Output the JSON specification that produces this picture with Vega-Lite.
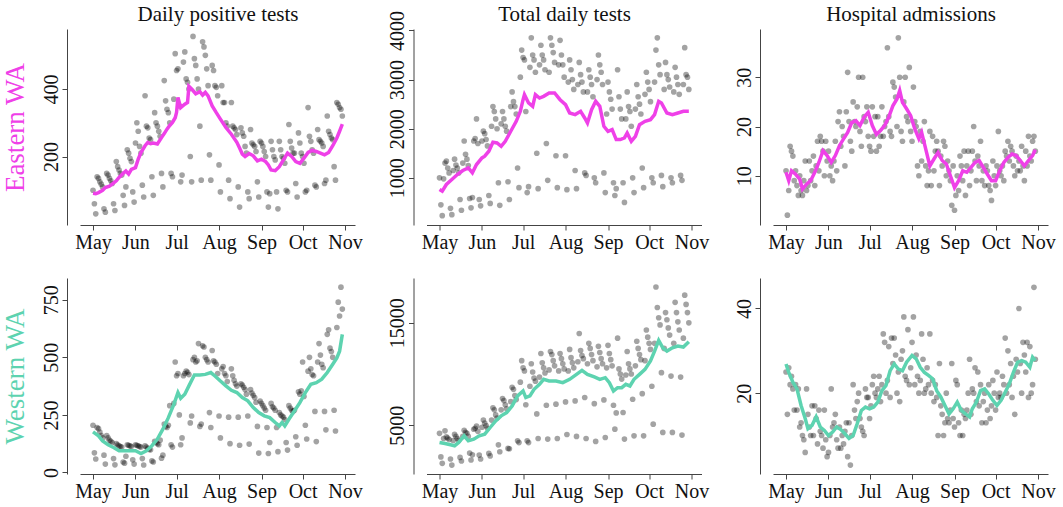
{
"$schema": "https://vega.github.io/schema/vega-lite/v6.json",
"background": "white",
"padding": {"left": 0, "top": 3, "right": 5, "bottom": 2},
"datasets": {
"pts": [
{"d":"2020/05/01","ep":100,"et":1000,"eh":11,"wp":205,"wt":4200,"wh":25},
{"d":"2020/05/02","ep":60,"et":450,"eh":2,"wp":85,"wt":1900,"wh":15},
{"d":"2020/05/03","ep":30,"et":230,"eh":7,"wp":58,"wt":1270,"wh":26},
{"d":"2020/05/04","ep":140,"et":980,"eh":16,"wp":195,"wt":3700,"wh":22},
{"d":"2020/05/05","ep":135,"et":1300,"eh":15,"wp":190,"wt":4450,"wh":24},
{"d":"2020/05/06","ep":125,"et":1340,"eh":14,"wp":175,"wt":3850,"wh":21},
{"d":"2020/05/07","ep":118,"et":1200,"eh":9,"wp":160,"wt":3750,"wh":16},
{"d":"2020/05/08","ep":110,"et":1100,"eh":11,"wp":150,"wt":3600,"wh":22},
{"d":"2020/05/09","ep":45,"et":380,"eh":8,"wp":75,"wt":1700,"wh":16},
{"d":"2020/05/10","ep":35,"et":250,"eh":6,"wp":36,"wt":1100,"wh":21},
{"d":"2020/05/11","ep":150,"et":1150,"eh":10,"wp":160,"wt":3500,"wh":12},
{"d":"2020/05/12","ep":145,"et":1380,"eh":7,"wp":150,"wt":4100,"wh":13},
{"d":"2020/05/13","ep":135,"et":1260,"eh":6,"wp":140,"wt":3900,"wh":10},
{"d":"2020/05/14","ep":128,"et":1200,"eh":9,"wp":135,"wt":3700,"wh":9},
{"d":"2020/05/15","ep":120,"et":1100,"eh":13,"wp":130,"wt":3500,"wh":6},
{"d":"2020/05/16","ep":60,"et":560,"eh":7,"wp":60,"wt":1850,"wh":21},
{"d":"2020/05/17","ep":40,"et":340,"eh":8,"wp":33,"wt":1500,"wh":15},
{"d":"2020/05/18","ep":185,"et":1300,"eh":13,"wp":125,"wt":3900,"wh":12},
{"d":"2020/05/19","ep":170,"et":1750,"eh":9,"wp":120,"wt":4500,"wh":10},
{"d":"2020/05/20","ep":160,"et":1480,"eh":11,"wp":115,"wt":4300,"wh":17},
{"d":"2020/05/21","ep":150,"et":1380,"eh":14,"wp":112,"wt":4200,"wh":10},
{"d":"2020/05/22","ep":145,"et":1250,"eh":8,"wp":110,"wt":3900,"wh":17},
{"d":"2020/05/23","ep":85,"et":580,"eh":12,"wp":45,"wt":2270,"wh":14},
{"d":"2020/05/24","ep":55,"et":390,"eh":17,"wp":40,"wt":1600,"wh":8},
{"d":"2020/05/25","ep":110,"et":600,"eh":11,"wp":70,"wt":2100,"wh":16},
{"d":"2020/05/26","ep":220,"et":1750,"eh":18,"wp":120,"wt":4600,"wh":11},
{"d":"2020/05/27","ep":210,"et":1800,"eh":17,"wp":118,"wt":4700,"wh":10},
{"d":"2020/05/28","ep":195,"et":2200,"eh":15,"wp":115,"wt":4900,"wh":7},
{"d":"2020/05/29","ep":185,"et":1700,"eh":10,"wp":112,"wt":4400,"wh":16},
{"d":"2020/05/30","ep":95,"et":560,"eh":17,"wp":55,"wt":2080,"wh":9},
{"d":"2020/05/31","ep":65,"et":430,"eh":13,"wp":36,"wt":1700,"wh":5},
{"d":"2020/06/01","ep":240,"et":1750,"eh":15,"wp":120,"wt":4800,"wh":6},
{"d":"2020/06/02","ep":300,"et":1950,"eh":10,"wp":118,"wt":5500,"wh":10},
{"d":"2020/06/03","ep":275,"et":1900,"eh":12,"wp":115,"wt":5200,"wh":21},
{"d":"2020/06/04","ep":230,"et":1780,"eh":9,"wp":112,"wt":4950,"wh":12},
{"d":"2020/06/05","ep":210,"et":1650,"eh":13,"wp":110,"wt":4700,"wh":13},
{"d":"2020/06/06","ep":115,"et":640,"eh":17,"wp":60,"wt":2240,"wh":15},
{"d":"2020/06/07","ep":80,"et":480,"eh":11,"wp":32,"wt":2000,"wh":9},
{"d":"2020/06/08","ep":380,"et":2050,"eh":21,"wp":115,"wt":5500,"wh":7},
{"d":"2020/06/09","ep":290,"et":2450,"eh":23,"wp":110,"wt":6700,"wh":12},
{"d":"2020/06/10","ep":285,"et":2350,"eh":16,"wp":105,"wt":6500,"wh":7},
{"d":"2020/06/11","ep":255,"et":2200,"eh":20,"wp":100,"wt":6000,"wh":10},
{"d":"2020/06/12","ep":250,"et":2000,"eh":18,"wp":98,"wt":5700,"wh":8},
{"d":"2020/06/13","ep":140,"et":900,"eh":12,"wp":50,"wt":3080,"wh":11},
{"d":"2020/06/14","ep":85,"et":440,"eh":23,"wp":45,"wt":2400,"wh":13},
{"d":"2020/06/15","ep":330,"et":2100,"eh":31,"wp":135,"wt":6500,"wh":5},
{"d":"2020/06/16","ep":300,"et":2350,"eh":21,"wp":130,"wt":7600,"wh":13},
{"d":"2020/06/17","ep":290,"et":2200,"eh":17,"wp":125,"wt":7400,"wh":3},
{"d":"2020/06/18","ep":275,"et":2050,"eh":15,"wp":120,"wt":7000,"wh":10},
{"d":"2020/06/19","ep":260,"et":1950,"eh":25,"wp":140,"wt":6600,"wh":22},
{"d":"2020/06/20","ep":150,"et":920,"eh":21,"wp":62,"wt":2730,"wh":16},
{"d":"2020/06/21","ep":110,"et":560,"eh":20,"wp":75,"wt":2700,"wh":14},
{"d":"2020/06/22","ep":425,"et":2450,"eh":24,"wp":210,"wt":7300,"wh":18},
{"d":"2020/06/23","ep":365,"et":2750,"eh":30,"wp":200,"wt":8700,"wh":20},
{"d":"2020/06/24","ep":340,"et":2550,"eh":19,"wp":195,"wt":8500,"wh":14},
{"d":"2020/06/25","ep":330,"et":2450,"eh":16,"wp":205,"wt":7900,"wh":12},
{"d":"2020/06/26","ep":300,"et":2300,"eh":30,"wp":290,"wt":7500,"wh":11},
{"d":"2020/06/27","ep":150,"et":1200,"eh":22,"wp":120,"wt":3470,"wh":10},
{"d":"2020/06/28","ep":140,"et":800,"eh":21,"wp":110,"wt":3300,"wh":21},
{"d":"2020/06/29","ep":370,"et":3050,"eh":24,"wp":300,"wt":9200,"wh":19},
{"d":"2020/06/30","ep":505,"et":3600,"eh":18,"wp":480,"wt":11300,"wh":19},
{"d":"2020/07/01","ep":455,"et":3450,"eh":16,"wp":420,"wt":10600,"wh":14},
{"d":"2020/07/02","ep":460,"et":3400,"eh":15,"wp":430,"wt":10300,"wh":17},
{"d":"2020/07/03","ep":350,"et":2350,"eh":24,"wp":250,"wt":7000,"wh":22},
{"d":"2020/07/04","ep":125,"et":700,"eh":18,"wp":120,"wt":3470,"wh":24},
{"d":"2020/07/05","ep":145,"et":820,"eh":22,"wp":150,"wt":3300,"wh":20},
{"d":"2020/07/06","ep":480,"et":3250,"eh":15,"wp":420,"wt":8800,"wh":19},
{"d":"2020/07/07","ep":510,"et":3850,"eh":22,"wp":430,"wt":11000,"wh":21},
{"d":"2020/07/08","ep":430,"et":3500,"eh":16,"wp":440,"wt":10200,"wh":24},
{"d":"2020/07/09","ep":420,"et":3400,"eh":18,"wp":435,"wt":9600,"wh":18},
{"d":"2020/07/10","ep":400,"et":3150,"eh":24,"wp":425,"wt":9300,"wh":22},
{"d":"2020/07/11","ep":200,"et":1500,"eh":18,"wp":215,"wt":6100,"wh":34},
{"d":"2020/07/12","ep":125,"et":780,"eh":20,"wp":245,"wt":3700,"wh":32},
{"d":"2020/07/13","ep":556,"et":3300,"eh":21,"wp":490,"wt":9700,"wh":20},
{"d":"2020/07/14","ep":490,"et":3700,"eh":36,"wp":500,"wt":12000,"wh":23},
{"d":"2020/07/15","ep":470,"et":3500,"eh":22,"wp":480,"wt":11100,"wh":31},
{"d":"2020/07/16","ep":430,"et":3400,"eh":19,"wp":485,"wt":10600,"wh":19},
{"d":"2020/07/17","ep":400,"et":3200,"eh":18,"wp":560,"wt":10100,"wh":33},
{"d":"2020/07/18","ep":290,"et":1700,"eh":29,"wp":200,"wt":6950,"wh":27},
{"d":"2020/07/19","ep":130,"et":950,"eh":28,"wp":210,"wt":3640,"wh":33},
{"d":"2020/07/20","ep":540,"et":3150,"eh":26,"wp":550,"wt":10400,"wh":29},
{"d":"2020/07/21","ep":525,"et":3850,"eh":20,"wp":545,"wt":12200,"wh":20},
{"d":"2020/07/22","ep":500,"et":3700,"eh":38,"wp":500,"wt":11900,"wh":25},
{"d":"2020/07/23","ep":460,"et":3550,"eh":30,"wp":490,"wt":11300,"wh":18},
{"d":"2020/07/24","ep":410,"et":3350,"eh":19,"wp":480,"wt":10800,"wh":28},
{"d":"2020/07/25","ep":205,"et":1450,"eh":17,"wp":260,"wt":7050,"wh":30},
{"d":"2020/07/26","ep":130,"et":800,"eh":25,"wp":195,"wt":3700,"wh":38},
{"d":"2020/07/27","ep":470,"et":3300,"eh":30,"wp":530,"wt":10300,"wh":24},
{"d":"2020/07/28","ep":455,"et":3800,"eh":22,"wp":485,"wt":12000,"wh":23},
{"d":"2020/07/29","ep":410,"et":3500,"eh":21,"wp":480,"wt":11500,"wh":35},
{"d":"2020/07/30","ep":405,"et":3300,"eh":32,"wp":470,"wt":11000,"wh":22},
{"d":"2020/07/31","ep":380,"et":3050,"eh":19,"wp":430,"wt":10500,"wh":26},
{"d":"2020/08/01","ep":175,"et":1450,"eh":17,"wp":245,"wt":7270,"wh":32},
{"d":"2020/08/02","ep":95,"et":760,"eh":28,"wp":150,"wt":4090,"wh":38},
{"d":"2020/08/03","ep":410,"et":2950,"eh":21,"wp":450,"wt":10300,"wh":22},
{"d":"2020/08/04","ep":360,"et":3400,"eh":20,"wp":460,"wt":12400,"wh":29},
{"d":"2020/08/05","ep":360,"et":3200,"eh":12,"wp":430,"wt":11600,"wh":24},
{"d":"2020/08/06","ep":300,"et":3000,"eh":10,"wp":420,"wt":11100,"wh":20},
{"d":"2020/08/07","ep":290,"et":2800,"eh":19,"wp":395,"wt":10600,"wh":23},
{"d":"2020/08/08","ep":130,"et":1150,"eh":13,"wp":240,"wt":7370,"wh":34},
{"d":"2020/08/09","ep":75,"et":780,"eh":17,"wp":125,"wt":3900,"wh":28},
{"d":"2020/08/10","ep":360,"et":2900,"eh":21,"wp":450,"wt":11200,"wh":20},
{"d":"2020/08/11","ep":290,"et":3350,"eh":12,"wp":420,"wt":13960,"wh":21},
{"d":"2020/08/12","ep":285,"et":3100,"eh":8,"wp":400,"wt":12300,"wh":26},
{"d":"2020/08/13","ep":280,"et":2950,"eh":11,"wp":385,"wt":11800,"wh":22},
{"d":"2020/08/14","ep":265,"et":2750,"eh":19,"wp":375,"wt":11500,"wh":34},
{"d":"2020/08/15","ep":110,"et":1100,"eh":8,"wp":240,"wt":7700,"wh":20},
{"d":"2020/08/16","ep":50,"et":1050,"eh":18,"wp":118,"wt":3700,"wh":23},
{"d":"2020/08/17","ep":285,"et":2750,"eh":11,"wp":385,"wt":11000,"wh":18},
{"d":"2020/08/18","ep":270,"et":3200,"eh":15,"wp":380,"wt":13000,"wh":22},
{"d":"2020/08/19","ep":260,"et":3050,"eh":17,"wp":370,"wt":12500,"wh":19},
{"d":"2020/08/20","ep":230,"et":2900,"eh":15,"wp":360,"wt":11900,"wh":10},
{"d":"2020/08/21","ep":210,"et":2650,"eh":8,"wp":340,"wt":11300,"wh":27},
{"d":"2020/08/22","ep":95,"et":1000,"eh":14,"wp":245,"wt":7100,"wh":17},
{"d":"2020/08/23","ep":75,"et":900,"eh":12,"wp":123,"wt":3410,"wh":15},
{"d":"2020/08/24","ep":280,"et":3000,"eh":17,"wp":360,"wt":10700,"wh":10},
{"d":"2020/08/25","ep":240,"et":3500,"eh":16,"wp":345,"wt":12700,"wh":13},
{"d":"2020/08/26","ep":235,"et":3300,"eh":10,"wp":335,"wt":12100,"wh":20},
{"d":"2020/08/27","ep":230,"et":3150,"eh":13,"wp":325,"wt":11500,"wh":14},
{"d":"2020/08/28","ep":215,"et":2900,"eh":11,"wp":305,"wt":11000,"wh":13},
{"d":"2020/08/29","ep":125,"et":1100,"eh":9,"wp":200,"wt":7470,"wh":16},
{"d":"2020/08/30","ep":80,"et":700,"eh":4,"wp":84,"wt":3800,"wh":27},
{"d":"2020/08/31","ep":245,"et":2300,"eh":12,"wp":310,"wt":10600,"wh":14},
{"d":"2020/09/01","ep":240,"et":2950,"eh":3,"wp":300,"wt":12800,"wh":12},
{"d":"2020/09/02","ep":230,"et":2750,"eh":6,"wp":290,"wt":12000,"wh":23},
{"d":"2020/09/03","ep":215,"et":2600,"eh":10,"wp":280,"wt":11400,"wh":22},
{"d":"2020/09/04","ep":200,"et":2400,"eh":7,"wp":270,"wt":10800,"wh":13},
{"d":"2020/09/05","ep":95,"et":900,"eh":14,"wp":195,"wt":6950,"wh":10},
{"d":"2020/09/06","ep":50,"et":640,"eh":12,"wp":82,"wt":4610,"wh":16},
{"d":"2020/09/07","ep":90,"et":780,"eh":9,"wp":130,"wt":6200,"wh":10},
{"d":"2020/09/08","ep":245,"et":3200,"eh":15,"wp":300,"wt":13500,"wh":15},
{"d":"2020/09/09","ep":220,"et":2650,"eh":6,"wp":285,"wt":10500,"wh":14},
{"d":"2020/09/10","ep":200,"et":2400,"eh":12,"wp":280,"wt":10000,"wh":16},
{"d":"2020/09/11","ep":190,"et":2200,"eh":15,"wp":270,"wt":9500,"wh":20},
{"d":"2020/09/12","ep":95,"et":900,"eh":8,"wp":195,"wt":6240,"wh":28},
{"d":"2020/09/13","ep":45,"et":500,"eh":11,"wp":90,"wt":3640,"wh":15},
{"d":"2020/09/14","ep":245,"et":2200,"eh":15,"wp":260,"wt":9900,"wh":21},
{"d":"2020/09/15","ep":220,"et":2750,"eh":20,"wp":250,"wt":12200,"wh":20},
{"d":"2020/09/16","ep":200,"et":2450,"eh":13,"wp":245,"wt":11000,"wh":26},
{"d":"2020/09/17","ep":195,"et":2350,"eh":9,"wp":240,"wt":10500,"wh":18},
{"d":"2020/09/18","ep":180,"et":2050,"eh":14,"wp":230,"wt":10000,"wh":25},
{"d":"2020/09/19","ep":100,"et":1000,"eh":12,"wp":130,"wt":7530,"wh":17},
{"d":"2020/09/20","ep":95,"et":700,"eh":17,"wp":97,"wt":3960,"wh":22},
{"d":"2020/09/21","ep":295,"et":2400,"eh":9,"wp":290,"wt":10800,"wh":13},
{"d":"2020/09/22","ep":245,"et":2900,"eh":11,"wp":280,"wt":13200,"wh":18},
{"d":"2020/09/23","ep":225,"et":2650,"eh":8,"wp":270,"wt":12500,"wh":20},
{"d":"2020/09/24","ep":210,"et":2500,"eh":12,"wp":265,"wt":11900,"wh":13},
{"d":"2020/09/25","ep":210,"et":2300,"eh":11,"wp":270,"wt":11400,"wh":16},
{"d":"2020/09/26","ep":120,"et":1200,"eh":8,"wp":155,"wt":8080,"wh":22},
{"d":"2020/09/27","ep":80,"et":800,"eh":7,"wp":118,"wt":3960,"wh":14},
{"d":"2020/09/28","ep":270,"et":2700,"eh":5,"wp":350,"wt":11300,"wh":17},
{"d":"2020/09/29","ep":240,"et":3150,"eh":13,"wp":340,"wt":14300,"wh":23},
{"d":"2020/09/30","ep":210,"et":2950,"eh":10,"wp":355,"wt":13600,"wh":20},
{"d":"2020/10/01","ep":200,"et":2800,"eh":8,"wp":480,"wt":13000,"wh":16},
{"d":"2020/10/02","ep":180,"et":2550,"eh":12,"wp":330,"wt":12400,"wh":25},
{"d":"2020/10/03","ep":95,"et":1000,"eh":19,"wp":205,"wt":8800,"wh":19},
{"d":"2020/10/04","ep":100,"et":900,"eh":11,"wp":145,"wt":5100,"wh":20},
{"d":"2020/10/05","ep":345,"et":2950,"eh":10,"wp":440,"wt":13000,"wh":19},
{"d":"2020/10/06","ep":260,"et":3600,"eh":12,"wp":500,"wt":18500,"wh":24},
{"d":"2020/10/07","ep":245,"et":3850,"eh":9,"wp":450,"wt":16500,"wh":22},
{"d":"2020/10/08","ep":220,"et":3300,"eh":15,"wp":425,"wt":15500,"wh":33},
{"d":"2020/10/09","ep":210,"et":3100,"eh":14,"wp":420,"wt":14800,"wh":20},
{"d":"2020/10/10","ep":115,"et":1050,"eh":17,"wp":265,"wt":10130,"wh":30},
{"d":"2020/10/11","ep":110,"et":820,"eh":13,"wp":134,"wt":4290,"wh":22},
{"d":"2020/10/12","ep":280,"et":2800,"eh":16,"wp":480,"wt":12500,"wh":27},
{"d":"2020/10/13","ep":250,"et":3350,"eh":15,"wp":560,"wt":16000,"wh":19},
{"d":"2020/10/14","ep":245,"et":3100,"eh":12,"wp":510,"wt":15300,"wh":24},
{"d":"2020/10/15","ep":240,"et":3000,"eh":10,"wp":470,"wt":14500,"wh":15},
{"d":"2020/10/16","ep":230,"et":2850,"eh":14,"wp":455,"wt":13800,"wh":28},
{"d":"2020/10/17","ep":120,"et":1000,"eh":11,"wp":265,"wt":9800,"wh":25},
{"d":"2020/10/18","ep":130,"et":900,"eh":13,"wp":185,"wt":4290,"wh":40},
{"d":"2020/10/19","ep":320,"et":2750,"eh":11,"wp":600,"wt":13000,"wh":27},
{"d":"2020/10/20","ep":275,"et":3250,"eh":16,"wp":620,"wt":17000,"wh":20},
{"d":"2020/10/21","ep":265,"et":3050,"eh":12,"wp":540,"wt":16000,"wh":32},
{"d":"2020/10/22","ep":255,"et":2900,"eh":9,"wp":525,"wt":15100,"wh":29},
{"d":"2020/10/23","ep":250,"et":2700,"eh":15,"wp":500,"wt":14300,"wh":25},
{"d":"2020/10/24","ep":170,"et":1050,"eh":12,"wp":270,"wt":9700,"wh":32},
{"d":"2020/10/25","ep":130,"et":950,"eh":18,"wp":180,"wt":4030,"wh":19},
{"d":"2020/10/26","ep":360,"et":2900,"eh":14,"wp":630,"wt":13500,"wh":31},
{"d":"2020/10/27","ep":355,"et":3650,"eh":13,"wp":740,"wt":17700,"wh":20},
{"d":"2020/10/28","ep":345,"et":3100,"eh":17,"wp":680,"wt":16800,"wh":22},
{"d":"2020/10/29","ep":340,"et":3050,"eh":18,"wp":805,"wt":16000,"wh":45},
{"d":"2020/10/30","ep":320,"et":2800,"eh":15,"wp":710,"wt":15000,"wh":28}
],
"ln": [
{"s":"ep","d":"2020/05/01","v":91},{"s":"ep","d":"2020/05/03","v":90},{"s":"ep","d":"2020/05/05","v":93},{"s":"ep","d":"2020/05/08","v":100},{"s":"ep","d":"2020/05/10","v":108},{"s":"ep","d":"2020/05/13","v":112},{"s":"ep","d":"2020/05/15","v":118},{"s":"ep","d":"2020/05/18","v":128},{"s":"ep","d":"2020/05/20","v":138},{"s":"ep","d":"2020/05/23","v":150},{"s":"ep","d":"2020/05/25","v":157},{"s":"ep","d":"2020/05/27","v":148},{"s":"ep","d":"2020/05/29","v":162},{"s":"ep","d":"2020/06/01","v":167},{"s":"ep","d":"2020/06/03","v":192},{"s":"ep","d":"2020/06/05","v":212},{"s":"ep","d":"2020/06/08","v":232},{"s":"ep","d":"2020/06/10","v":242},{"s":"ep","d":"2020/06/12","v":238},{"s":"ep","d":"2020/06/14","v":240},{"s":"ep","d":"2020/06/17","v":237},{"s":"ep","d":"2020/06/20","v":256},{"s":"ep","d":"2020/06/22","v":268},{"s":"ep","d":"2020/06/24","v":281},{"s":"ep","d":"2020/06/26","v":292},{"s":"ep","d":"2020/06/28","v":301},{"s":"ep","d":"2020/06/30","v":315},{"s":"ep","d":"2020/07/01","v":331},{"s":"ep","d":"2020/07/02","v":375},{"s":"ep","d":"2020/07/04","v":345},{"s":"ep","d":"2020/07/07","v":355},{"s":"ep","d":"2020/07/09","v":360},{"s":"ep","d":"2020/07/10","v":408},{"s":"ep","d":"2020/07/12","v":400},{"s":"ep","d":"2020/07/15","v":386},{"s":"ep","d":"2020/07/18","v":392},{"s":"ep","d":"2020/07/20","v":382},{"s":"ep","d":"2020/07/22","v":390},{"s":"ep","d":"2020/07/24","v":380},{"s":"ep","d":"2020/07/27","v":350},{"s":"ep","d":"2020/07/30","v":330},{"s":"ep","d":"2020/08/02","v":311},{"s":"ep","d":"2020/08/06","v":286},{"s":"ep","d":"2020/08/10","v":266},{"s":"ep","d":"2020/08/14","v":242},{"s":"ep","d":"2020/08/16","v":225},{"s":"ep","d":"2020/08/18","v":207},{"s":"ep","d":"2020/08/20","v":200},{"s":"ep","d":"2020/08/23","v":209},{"s":"ep","d":"2020/08/26","v":202},{"s":"ep","d":"2020/08/29","v":187},{"s":"ep","d":"2020/09/01","v":192},{"s":"ep","d":"2020/09/04","v":185},{"s":"ep","d":"2020/09/06","v":175},{"s":"ep","d":"2020/09/08","v":160},{"s":"ep","d":"2020/09/11","v":158},{"s":"ep","d":"2020/09/14","v":170},{"s":"ep","d":"2020/09/17","v":190},{"s":"ep","d":"2020/09/20","v":210},{"s":"ep","d":"2020/09/23","v":200},{"s":"ep","d":"2020/09/26","v":185},{"s":"ep","d":"2020/09/29","v":180},{"s":"ep","d":"2020/10/02","v":195},{"s":"ep","d":"2020/10/05","v":212},{"s":"ep","d":"2020/10/08","v":218},{"s":"ep","d":"2020/10/11","v":215},{"s":"ep","d":"2020/10/14","v":210},{"s":"ep","d":"2020/10/17","v":205},{"s":"ep","d":"2020/10/20","v":212},{"s":"ep","d":"2020/10/23","v":232},{"s":"ep","d":"2020/10/26","v":255},{"s":"ep","d":"2020/10/28","v":275},{"s":"ep","d":"2020/10/30","v":296},
{"s":"et","d":"2020/05/01","v":763},{"s":"et","d":"2020/05/03","v":729},{"s":"et","d":"2020/05/06","v":865},{"s":"et","d":"2020/05/10","v":966},{"s":"et","d":"2020/05/14","v":1068},{"s":"et","d":"2020/05/18","v":1149},{"s":"et","d":"2020/05/22","v":1203},{"s":"et","d":"2020/05/25","v":1101},{"s":"et","d":"2020/05/28","v":1271},{"s":"et","d":"2020/06/01","v":1406},{"s":"et","d":"2020/06/03","v":1440},{"s":"et","d":"2020/06/06","v":1542},{"s":"et","d":"2020/06/09","v":1724},{"s":"et","d":"2020/06/12","v":1711},{"s":"et","d":"2020/06/15","v":1643},{"s":"et","d":"2020/06/18","v":1745},{"s":"et","d":"2020/06/22","v":1948},{"s":"et","d":"2020/06/26","v":2151},{"s":"et","d":"2020/06/29","v":2354},{"s":"et","d":"2020/07/01","v":2591},{"s":"et","d":"2020/07/02","v":2693},{"s":"et","d":"2020/07/05","v":2524},{"s":"et","d":"2020/07/08","v":2456},{"s":"et","d":"2020/07/10","v":2693},{"s":"et","d":"2020/07/13","v":2625},{"s":"et","d":"2020/07/16","v":2659},{"s":"et","d":"2020/07/20","v":2727},{"s":"et","d":"2020/07/24","v":2727},{"s":"et","d":"2020/07/28","v":2591},{"s":"et","d":"2020/08/01","v":2490},{"s":"et","d":"2020/08/04","v":2320},{"s":"et","d":"2020/08/08","v":2287},{"s":"et","d":"2020/08/12","v":2354},{"s":"et","d":"2020/08/15","v":2219},{"s":"et","d":"2020/08/17","v":2117},{"s":"et","d":"2020/08/20","v":2388},{"s":"et","d":"2020/08/23","v":2558},{"s":"et","d":"2020/08/26","v":2456},{"s":"et","d":"2020/08/29","v":2049},{"s":"et","d":"2020/09/01","v":1948},{"s":"et","d":"2020/09/04","v":1982},{"s":"et","d":"2020/09/07","v":1779},{"s":"et","d":"2020/09/10","v":1779},{"s":"et","d":"2020/09/13","v":1812},{"s":"et","d":"2020/09/15","v":1914},{"s":"et","d":"2020/09/18","v":1745},{"s":"et","d":"2020/09/21","v":1846},{"s":"et","d":"2020/09/24","v":2083},{"s":"et","d":"2020/09/28","v":2151},{"s":"et","d":"2020/10/02","v":2185},{"s":"et","d":"2020/10/05","v":2287},{"s":"et","d":"2020/10/08","v":2558},{"s":"et","d":"2020/10/10","v":2524},{"s":"et","d":"2020/10/14","v":2320},{"s":"et","d":"2020/10/18","v":2287},{"s":"et","d":"2020/10/22","v":2320},{"s":"et","d":"2020/10/26","v":2354},{"s":"et","d":"2020/10/30","v":2354},
{"s":"eh","d":"2020/05/01","v":10.7},{"s":"eh","d":"2020/05/03","v":9.0},{"s":"eh","d":"2020/05/05","v":11.0},{"s":"eh","d":"2020/05/08","v":10.3},{"s":"eh","d":"2020/05/11","v":9.3},{"s":"eh","d":"2020/05/13","v":7.3},{"s":"eh","d":"2020/05/16","v":8.3},{"s":"eh","d":"2020/05/19","v":9.0},{"s":"eh","d":"2020/05/22","v":10.7},{"s":"eh","d":"2020/05/25","v":12.7},{"s":"eh","d":"2020/05/28","v":15.1},{"s":"eh","d":"2020/05/31","v":14.1},{"s":"eh","d":"2020/06/03","v":12.7},{"s":"eh","d":"2020/06/06","v":14.1},{"s":"eh","d":"2020/06/09","v":16.1},{"s":"eh","d":"2020/06/12","v":17.5},{"s":"eh","d":"2020/06/15","v":18.8},{"s":"eh","d":"2020/06/18","v":20.8},{"s":"eh","d":"2020/06/21","v":21.2},{"s":"eh","d":"2020/06/24","v":20.2},{"s":"eh","d":"2020/06/27","v":21.9},{"s":"eh","d":"2020/06/30","v":22.9},{"s":"eh","d":"2020/07/03","v":20.2},{"s":"eh","d":"2020/07/06","v":18.4},{"s":"eh","d":"2020/07/09","v":19.2},{"s":"eh","d":"2020/07/12","v":20.2},{"s":"eh","d":"2020/07/15","v":21.9},{"s":"eh","d":"2020/07/18","v":24.2},{"s":"eh","d":"2020/07/21","v":25.6},{"s":"eh","d":"2020/07/23","v":27.3},{"s":"eh","d":"2020/07/25","v":24.9},{"s":"eh","d":"2020/07/28","v":23.6},{"s":"eh","d":"2020/07/31","v":22.2},{"s":"eh","d":"2020/08/03","v":19.5},{"s":"eh","d":"2020/08/06","v":17.5},{"s":"eh","d":"2020/08/08","v":18.8},{"s":"eh","d":"2020/08/11","v":15.4},{"s":"eh","d":"2020/08/14","v":12.0},{"s":"eh","d":"2020/08/17","v":13.4},{"s":"eh","d":"2020/08/20","v":14.7},{"s":"eh","d":"2020/08/23","v":13.1},{"s":"eh","d":"2020/08/26","v":12.4},{"s":"eh","d":"2020/08/29","v":10.0},{"s":"eh","d":"2020/09/01","v":7.6},{"s":"eh","d":"2020/09/04","v":9.0},{"s":"eh","d":"2020/09/07","v":11.0},{"s":"eh","d":"2020/09/10","v":10.7},{"s":"eh","d":"2020/09/13","v":11.7},{"s":"eh","d":"2020/09/16","v":12.7},{"s":"eh","d":"2020/09/19","v":13.1},{"s":"eh","d":"2020/09/22","v":11.7},{"s":"eh","d":"2020/09/25","v":10.3},{"s":"eh","d":"2020/09/28","v":9.0},{"s":"eh","d":"2020/10/01","v":9.0},{"s":"eh","d":"2020/10/04","v":11.0},{"s":"eh","d":"2020/10/07","v":12.7},{"s":"eh","d":"2020/10/10","v":13.7},{"s":"eh","d":"2020/10/13","v":14.4},{"s":"eh","d":"2020/10/16","v":14.1},{"s":"eh","d":"2020/10/19","v":13.1},{"s":"eh","d":"2020/10/22","v":12.0},{"s":"eh","d":"2020/10/25","v":13.1},{"s":"eh","d":"2020/10/28","v":14.1},{"s":"eh","d":"2020/10/30","v":15.3},
{"s":"wp","d":"2020/05/01","v":176},{"s":"wp","d":"2020/05/05","v":159},{"s":"wp","d":"2020/05/08","v":137},{"s":"wp","d":"2020/05/12","v":120},{"s":"wp","d":"2020/05/16","v":108},{"s":"wp","d":"2020/05/20","v":94},{"s":"wp","d":"2020/05/24","v":94},{"s":"wp","d":"2020/05/27","v":94},{"s":"wp","d":"2020/06/01","v":94},{"s":"wp","d":"2020/06/05","v":82},{"s":"wp","d":"2020/06/09","v":94},{"s":"wp","d":"2020/06/13","v":116},{"s":"wp","d":"2020/06/17","v":145},{"s":"wp","d":"2020/06/21","v":188},{"s":"wp","d":"2020/06/25","v":238},{"s":"wp","d":"2020/06/29","v":296},{"s":"wp","d":"2020/07/02","v":347},{"s":"wp","d":"2020/07/04","v":322},{"s":"wp","d":"2020/07/07","v":340},{"s":"wp","d":"2020/07/10","v":376},{"s":"wp","d":"2020/07/14","v":423},{"s":"wp","d":"2020/07/18","v":423},{"s":"wp","d":"2020/07/22","v":426},{"s":"wp","d":"2020/07/26","v":434},{"s":"wp","d":"2020/07/29","v":419},{"s":"wp","d":"2020/08/02","v":397},{"s":"wp","d":"2020/08/06","v":376},{"s":"wp","d":"2020/08/10","v":357},{"s":"wp","d":"2020/08/14","v":347},{"s":"wp","d":"2020/08/18","v":325},{"s":"wp","d":"2020/08/22","v":311},{"s":"wp","d":"2020/08/26","v":282},{"s":"wp","d":"2020/08/30","v":260},{"s":"wp","d":"2020/09/03","v":246},{"s":"wp","d":"2020/09/07","v":238},{"s":"wp","d":"2020/09/11","v":217},{"s":"wp","d":"2020/09/14","v":202},{"s":"wp","d":"2020/09/16","v":217},{"s":"wp","d":"2020/09/18","v":202},{"s":"wp","d":"2020/09/21","v":231},{"s":"wp","d":"2020/09/25","v":267},{"s":"wp","d":"2020/09/29","v":303},{"s":"wp","d":"2020/10/03","v":347},{"s":"wp","d":"2020/10/07","v":383},{"s":"wp","d":"2020/10/11","v":390},{"s":"wp","d":"2020/10/15","v":405},{"s":"wp","d":"2020/10/19","v":434},{"s":"wp","d":"2020/10/23","v":470},{"s":"wp","d":"2020/10/26","v":498},{"s":"wp","d":"2020/10/28","v":527},{"s":"wp","d":"2020/10/30","v":600},
{"s":"wt","d":"2020/05/01","v":3312},{"s":"wt","d":"2020/05/05","v":3214},{"s":"wt","d":"2020/05/09","v":3084},{"s":"wt","d":"2020/05/12","v":2987},{"s":"wt","d":"2020/05/15","v":3312},{"s":"wt","d":"2020/05/19","v":3961},{"s":"wt","d":"2020/05/22","v":3474},{"s":"wt","d":"2020/05/26","v":3636},{"s":"wt","d":"2020/05/30","v":3961},{"s":"wt","d":"2020/06/03","v":4123},{"s":"wt","d":"2020/06/07","v":4773},{"s":"wt","d":"2020/06/11","v":5422},{"s":"wt","d":"2020/06/15","v":5909},{"s":"wt","d":"2020/06/19","v":6234},{"s":"wt","d":"2020/06/23","v":6883},{"s":"wt","d":"2020/06/27","v":7857},{"s":"wt","d":"2020/07/01","v":8344},{"s":"wt","d":"2020/07/03","v":7695},{"s":"wt","d":"2020/07/06","v":7857},{"s":"wt","d":"2020/07/09","v":8507},{"s":"wt","d":"2020/07/13","v":8994},{"s":"wt","d":"2020/07/16","v":9481},{"s":"wt","d":"2020/07/20","v":9318},{"s":"wt","d":"2020/07/25","v":9318},{"s":"wt","d":"2020/07/30","v":9156},{"s":"wt","d":"2020/08/04","v":9481},{"s":"wt","d":"2020/08/09","v":9968},{"s":"wt","d":"2020/08/13","v":10358},{"s":"wt","d":"2020/08/17","v":9968},{"s":"wt","d":"2020/08/22","v":9708},{"s":"wt","d":"2020/08/26","v":9481},{"s":"wt","d":"2020/08/30","v":9643},{"s":"wt","d":"2020/09/02","v":9156},{"s":"wt","d":"2020/09/05","v":8344},{"s":"wt","d":"2020/09/08","v":8669},{"s":"wt","d":"2020/09/11","v":8669},{"s":"wt","d":"2020/09/14","v":8994},{"s":"wt","d":"2020/09/17","v":8831},{"s":"wt","d":"2020/09/20","v":9481},{"s":"wt","d":"2020/09/24","v":9968},{"s":"wt","d":"2020/09/28","v":10455},{"s":"wt","d":"2020/10/02","v":11267},{"s":"wt","d":"2020/10/05","v":12241},{"s":"wt","d":"2020/10/08","v":13280},{"s":"wt","d":"2020/10/11","v":12566},{"s":"wt","d":"2020/10/14","v":12241},{"s":"wt","d":"2020/10/18","v":12566},{"s":"wt","d":"2020/10/22","v":12728},{"s":"wt","d":"2020/10/26","v":12631},{"s":"wt","d":"2020/10/30","v":13150},
{"s":"wh","d":"2020/05/01","v":26.9},{"s":"wh","d":"2020/05/03","v":24.9},{"s":"wh","d":"2020/05/06","v":22.6},{"s":"wh","d":"2020/05/09","v":21.0},{"s":"wh","d":"2020/05/12","v":17.1},{"s":"wh","d":"2020/05/15","v":14.0},{"s":"wh","d":"2020/05/17","v":11.6},{"s":"wh","d":"2020/05/20","v":12.4},{"s":"wh","d":"2020/05/23","v":14.4},{"s":"wh","d":"2020/05/26","v":12.0},{"s":"wh","d":"2020/05/29","v":11.2},{"s":"wh","d":"2020/06/01","v":10.0},{"s":"wh","d":"2020/06/04","v":10.8},{"s":"wh","d":"2020/06/07","v":12.0},{"s":"wh","d":"2020/06/10","v":11.4},{"s":"wh","d":"2020/06/13","v":10.4},{"s":"wh","d":"2020/06/16","v":9.3},{"s":"wh","d":"2020/06/19","v":10.0},{"s":"wh","d":"2020/06/22","v":12.8},{"s":"wh","d":"2020/06/25","v":15.9},{"s":"wh","d":"2020/06/28","v":16.7},{"s":"wh","d":"2020/07/01","v":16.3},{"s":"wh","d":"2020/07/04","v":16.7},{"s":"wh","d":"2020/07/07","v":17.9},{"s":"wh","d":"2020/07/10","v":20.6},{"s":"wh","d":"2020/07/13","v":21.8},{"s":"wh","d":"2020/07/16","v":25.3},{"s":"wh","d":"2020/07/19","v":26.9},{"s":"wh","d":"2020/07/22","v":25.7},{"s":"wh","d":"2020/07/25","v":25.3},{"s":"wh","d":"2020/07/28","v":27.3},{"s":"wh","d":"2020/08/01","v":28.9},{"s":"wh","d":"2020/08/04","v":28.1},{"s":"wh","d":"2020/08/07","v":26.1},{"s":"wh","d":"2020/08/10","v":24.9},{"s":"wh","d":"2020/08/13","v":24.2},{"s":"wh","d":"2020/08/16","v":23.4},{"s":"wh","d":"2020/08/19","v":20.6},{"s":"wh","d":"2020/08/22","v":19.1},{"s":"wh","d":"2020/08/25","v":17.1},{"s":"wh","d":"2020/08/28","v":15.1},{"s":"wh","d":"2020/08/31","v":16.3},{"s":"wh","d":"2020/09/03","v":17.9},{"s":"wh","d":"2020/09/06","v":15.9},{"s":"wh","d":"2020/09/09","v":15.1},{"s":"wh","d":"2020/09/12","v":14.4},{"s":"wh","d":"2020/09/14","v":16.3},{"s":"wh","d":"2020/09/17","v":17.9},{"s":"wh","d":"2020/09/20","v":20.6},{"s":"wh","d":"2020/09/23","v":21.0},{"s":"wh","d":"2020/09/26","v":19.8},{"s":"wh","d":"2020/09/29","v":18.3},{"s":"wh","d":"2020/10/02","v":17.1},{"s":"wh","d":"2020/10/05","v":18.3},{"s":"wh","d":"2020/10/08","v":20.2},{"s":"wh","d":"2020/10/11","v":22.2},{"s":"wh","d":"2020/10/14","v":24.9},{"s":"wh","d":"2020/10/17","v":27.3},{"s":"wh","d":"2020/10/20","v":27.7},{"s":"wh","d":"2020/10/23","v":27.3},{"s":"wh","d":"2020/10/26","v":26.1},{"s":"wh","d":"2020/10/28","v":28.5},{"s":"wh","d":"2020/10/30","v":27.7}
]
},
"columns": 3,
"spacing": {"row": 53, "column": 71.5},
"bounds": "flush",
"concat": [
{"width": 275, "height": 196,
 "resolve": {"axis": {"x": "independent"}},
 "layer": [
  {"data": {"name": "pts"}, "mark": {"type": "circle", "size": 32, "color": "#000000", "opacity": 0.36},
   "encoding": {"x": {"field": "d", "type": "temporal", "scale": {"domain": [{"year": 2020, "month": 4, "date": 21, "hours": 12}, {"year": 2020, "month": 11, "date": 8, "hours": 6}]}, "axis": {"orient": "bottom", "values": [{"year":2020,"month":5,"date":1},{"year":2020,"month":6,"date":1},{"year":2020,"month":7,"date":1},{"year":2020,"month":8,"date":1},{"year":2020,"month":9,"date":1},{"year":2020,"month":10,"date":1},{"year":2020,"month":11,"date":1}], "format": "%b", "title": null}},
    "y": {"field": "ep", "type": "quantitative", "scale": {"domain": [-3, 578], "nice": false, "zero": false}, "axis": {"values": [200, 400], "format": "d", "title": "Eastern WA", "titleColor": "#EF40E8"}}}},
  {"data": {"name": "ln"}, "transform": [{"filter": "datum.s == 'ep'"}], "mark": {"type": "line", "color": "#EF40E8", "strokeWidth": 3.5},
   "encoding": {"x": {"field": "d", "type": "temporal", "axis": {"orient": "top", "title": "Daily positive tests", "domain": false, "ticks": false, "labels": false, "titlePadding": 5, "titleFontSize": 21, "titleColor": "#111111"}}, "y": {"field": "v", "type": "quantitative"}}}
 ]},
{"width": 275, "height": 196,
 "resolve": {"axis": {"x": "independent"}},
 "layer": [
  {"data": {"name": "pts"}, "mark": {"type": "circle", "size": 32, "color": "#000000", "opacity": 0.36},
   "encoding": {"x": {"field": "d", "type": "temporal", "scale": {"domain": [{"year": 2020, "month": 4, "date": 21, "hours": 12}, {"year": 2020, "month": 11, "date": 8, "hours": 6}]}, "axis": {"orient": "bottom", "values": [{"year":2020,"month":5,"date":1},{"year":2020,"month":6,"date":1},{"year":2020,"month":7,"date":1},{"year":2020,"month":8,"date":1},{"year":2020,"month":9,"date":1},{"year":2020,"month":10,"date":1},{"year":2020,"month":11,"date":1}], "format": "%b", "title": null}},
    "y": {"field": "et", "type": "quantitative", "scale": {"domain": [40, 4030], "nice": false, "zero": false}, "axis": {"values": [1000, 2000, 3000, 4000], "format": "d", "labelFlush": 4, "title": null}}}},
  {"data": {"name": "ln"}, "transform": [{"filter": "datum.s == 'et'"}], "mark": {"type": "line", "color": "#EF40E8", "strokeWidth": 3.5},
   "encoding": {"x": {"field": "d", "type": "temporal", "axis": {"orient": "top", "title": "Total daily tests", "domain": false, "ticks": false, "labels": false, "titlePadding": 5, "titleFontSize": 21, "titleColor": "#111111"}}, "y": {"field": "v", "type": "quantitative"}}}
 ]},
{"width": 275, "height": 196,
 "resolve": {"axis": {"x": "independent"}},
 "layer": [
  {"data": {"name": "pts"}, "mark": {"type": "circle", "size": 32, "color": "#000000", "opacity": 0.36},
   "encoding": {"x": {"field": "d", "type": "temporal", "scale": {"domain": [{"year": 2020, "month": 4, "date": 21, "hours": 12}, {"year": 2020, "month": 11, "date": 8, "hours": 6}]}, "axis": {"orient": "bottom", "values": [{"year":2020,"month":5,"date":1},{"year":2020,"month":6,"date":1},{"year":2020,"month":7,"date":1},{"year":2020,"month":8,"date":1},{"year":2020,"month":9,"date":1},{"year":2020,"month":10,"date":1},{"year":2020,"month":11,"date":1}], "format": "%b", "title": null}},
    "y": {"field": "eh", "type": "quantitative", "scale": {"domain": [0, 39.8], "nice": false, "zero": false}, "axis": {"values": [10, 20, 30], "format": "d", "title": null}}}},
  {"data": {"name": "ln"}, "transform": [{"filter": "datum.s == 'eh'"}], "mark": {"type": "line", "color": "#EF40E8", "strokeWidth": 3.5},
   "encoding": {"x": {"field": "d", "type": "temporal", "axis": {"orient": "top", "title": "Hospital admissions", "domain": false, "ticks": false, "labels": false, "titlePadding": 5, "titleFontSize": 21, "titleColor": "#111111"}}, "y": {"field": "v", "type": "quantitative"}}}
 ]},
{"width": 275, "height": 196,
 "layer": [
  {"data": {"name": "pts"}, "mark": {"type": "circle", "size": 32, "color": "#000000", "opacity": 0.36},
   "encoding": {"x": {"field": "d", "type": "temporal", "scale": {"domain": [{"year": 2020, "month": 4, "date": 21, "hours": 12}, {"year": 2020, "month": 11, "date": 8, "hours": 6}]}, "axis": {"values": [{"year":2020,"month":5,"date":1},{"year":2020,"month":6,"date":1},{"year":2020,"month":7,"date":1},{"year":2020,"month":8,"date":1},{"year":2020,"month":9,"date":1},{"year":2020,"month":10,"date":1},{"year":2020,"month":11,"date":1}], "format": "%b", "title": null}},
    "y": {"field": "wp", "type": "quantitative", "scale": {"domain": [-7, 845], "nice": false, "zero": false}, "axis": {"values": [0, 250, 500, 750], "format": "d", "title": "Western WA", "titleColor": "#5DD3B0"}}}},
  {"data": {"name": "ln"}, "transform": [{"filter": "datum.s == 'wp'"}], "mark": {"type": "line", "color": "#5DD3B0", "strokeWidth": 3.5},
   "encoding": {"x": {"field": "d", "type": "temporal"}, "y": {"field": "v", "type": "quantitative"}}}
 ]},
{"width": 275, "height": 196,
 "layer": [
  {"data": {"name": "pts"}, "mark": {"type": "circle", "size": 32, "color": "#000000", "opacity": 0.36},
   "encoding": {"x": {"field": "d", "type": "temporal", "scale": {"domain": [{"year": 2020, "month": 4, "date": 21, "hours": 12}, {"year": 2020, "month": 11, "date": 8, "hours": 6}]}, "axis": {"values": [{"year":2020,"month":5,"date":1},{"year":2020,"month":6,"date":1},{"year":2020,"month":7,"date":1},{"year":2020,"month":8,"date":1},{"year":2020,"month":9,"date":1},{"year":2020,"month":10,"date":1},{"year":2020,"month":11,"date":1}], "format": "%b", "title": null}},
    "y": {"field": "wt", "type": "quantitative", "scale": {"domain": [230, 19380], "nice": false, "zero": false}, "axis": {"values": [5000, 15000], "format": "d", "title": null}}}},
  {"data": {"name": "ln"}, "transform": [{"filter": "datum.s == 'wt'"}], "mark": {"type": "line", "color": "#5DD3B0", "strokeWidth": 3.5},
   "encoding": {"x": {"field": "d", "type": "temporal"}, "y": {"field": "v", "type": "quantitative"}}}
 ]},
{"width": 275, "height": 196,
 "layer": [
  {"data": {"name": "pts"}, "mark": {"type": "circle", "size": 32, "color": "#000000", "opacity": 0.36},
   "encoding": {"x": {"field": "d", "type": "temporal", "scale": {"domain": [{"year": 2020, "month": 4, "date": 21, "hours": 12}, {"year": 2020, "month": 11, "date": 8, "hours": 6}]}, "axis": {"values": [{"year":2020,"month":5,"date":1},{"year":2020,"month":6,"date":1},{"year":2020,"month":7,"date":1},{"year":2020,"month":8,"date":1},{"year":2020,"month":9,"date":1},{"year":2020,"month":10,"date":1},{"year":2020,"month":11,"date":1}], "format": "%b", "title": null}},
    "y": {"field": "wh", "type": "quantitative", "scale": {"domain": [0.9, 47.2], "nice": false, "zero": false}, "axis": {"values": [20, 40], "format": "d", "title": null}}}},
  {"data": {"name": "ln"}, "transform": [{"filter": "datum.s == 'wh'"}], "mark": {"type": "line", "color": "#5DD3B0", "strokeWidth": 3.5},
   "encoding": {"x": {"field": "d", "type": "temporal"}, "y": {"field": "v", "type": "quantitative"}}}
 ]}
],
"config": {
 "view": {"stroke": null},
 "font": "Liberation Serif",
 "axis": {"grid": false, "domainColor": "#444444", "domainWidth": 1, "tickColor": "#444444", "tickSize": 5, "labelFont": "Liberation Serif", "labelFontSize": 20, "labelColor": "#111111", "titleFont": "Liberation Serif", "titleFontWeight": "normal", "titleFontSize": 27},
 "axisX": {"labelPadding": 2, "labelOverlap": false, "labelFlush": false},
 "axisY": {"offset": 13, "labelAngle": -90, "labelAlign": "center", "labelBaseline": "alphabetic", "labelPadding": 5, "titlePadding": 12}
}
}
